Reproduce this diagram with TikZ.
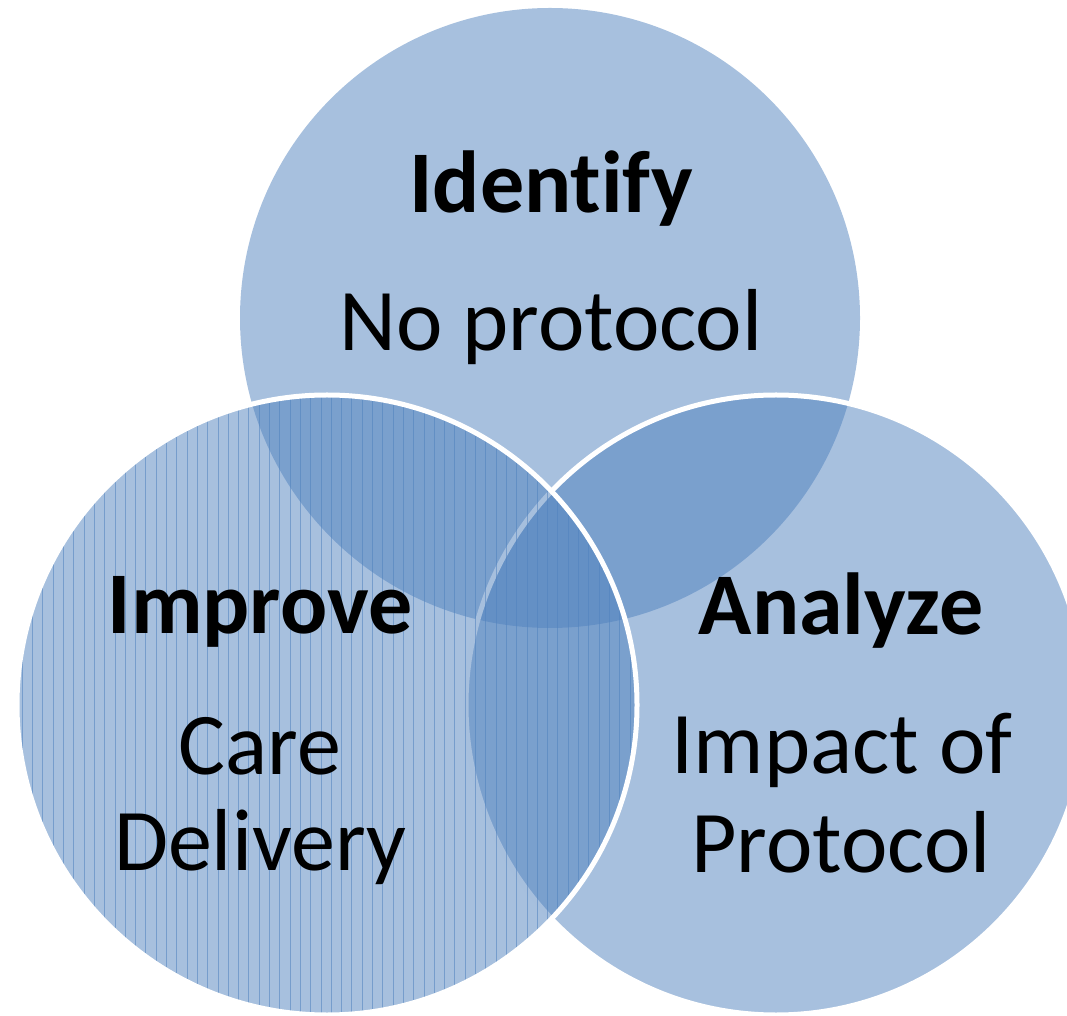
\documentclass[tikz,border=0pt]{standalone}
\usepackage{fontspec}
\setmainfont[Ligatures=NoCommon]{Carlito}
\definecolor{vennblue}{HTML}{4F81BD}
\tikzstyle{blob}=[fill=vennblue, fill opacity=0.5]
\tikzstyle{rim}=[draw=white, line width=5pt]
\tikzstyle{hatch}=[draw=vennblue, draw opacity=0.55, line width=1pt]
\tikzstyle{word}=[anchor=base, inner sep=0pt, font=\fontsize{88}{96}\selectfont]
\tikzstyle{head}=[word, font=\fontsize{88}{96}\selectfont\bfseries]

\begin{document}
\begin{tikzpicture}[x=1pt, y=1pt]
      \useasboundingbox (0,0) rectangle (1067,1015);
      \clip (0,0) rectangle (1067,1015);
      \coordinate (top) at (550,697);
      \coordinate (left) at (327,310);
      \coordinate (right) at (776,310);
      % circles
      \path[blob] (top) circle (310);
      \path[blob] (right) circle (310);
      \draw[rim] (right) circle (310);
      \path[blob] (left) circle (310);
      \begin{scope}
        \clip (left) circle (310);
        \foreach \k in {0,...,60} {%
          \draw[hatch] ([xshift=\k*10.3pt+12pt]left -| 0,0) ++(0,-320) -- ++(0,640);
        }
      \end{scope}
      \draw[rim] (left) circle (310);
      % labels
      \node[head] (identify) at (551,802) {Identify};
      \node[word] (noprot) at (551,664) {No protocol};
      \node[head] (improve) at (260,381) {Improve};
      \node[word] (care) at (260,241) {Care};
      \node[word] (delivery) at (260,145) {Delivery};
      \node[head] (analyze) at (841,380) {Analyze};
      \node[word] (impact) at (842,242) {Impact of};
      \node[word] (protocol) at (841,143) {Protocol};
    \end{tikzpicture}
\end{document}
